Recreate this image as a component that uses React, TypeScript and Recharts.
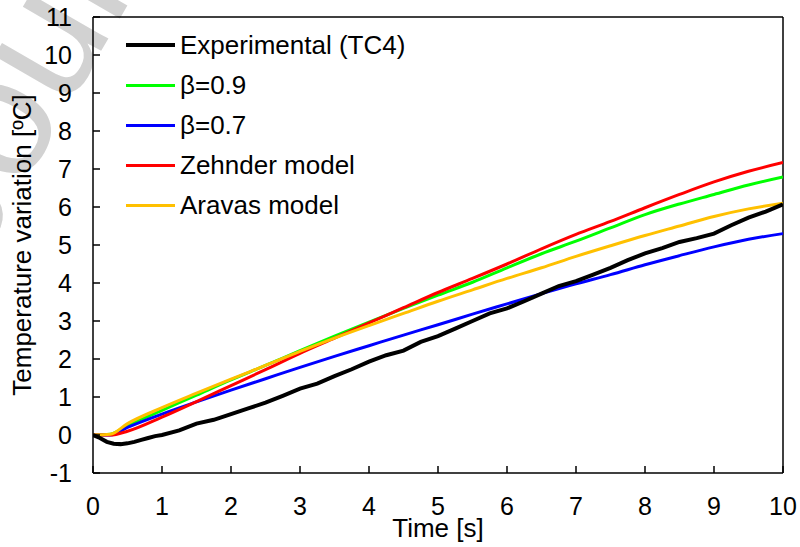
import { Legend, Line, LineChart, ReferenceLine, XAxis, YAxis } from "recharts";

const FONT = '"Liberation Sans", Arial, sans-serif';

// model time grid (s)
const modelTimes = [0, 0.25, 0.5, 1, 1.5, 2, 2.5, 3, 3.5, 4, 4.5, 5, 5.5, 6, 6.5, 7, 7.5, 8, 8.5, 9, 9.5, 10];
const beta09 = [0, 0.02, 0.25, 0.65, 1.05, 1.45, 1.83, 2.22, 2.6, 2.97, 3.33, 3.68, 4.02, 4.4, 4.77, 5.1, 5.45, 5.8, 6.08, 6.33, 6.58, 6.79];
const beta07 = [0, 0, 0.2, 0.55, 0.87, 1.18, 1.48, 1.78, 2.07, 2.35, 2.63, 2.9, 3.18, 3.45, 3.72, 3.98, 4.22, 4.48, 4.72, 4.95, 5.15, 5.3];
const zehnder = [0, 0, 0.1, 0.47, 0.88, 1.3, 1.72, 2.15, 2.55, 2.95, 3.35, 3.75, 4.12, 4.5, 4.9, 5.28, 5.62, 5.98, 6.33, 6.66, 6.94, 7.17];
const aravas = [0, 0.02, 0.3, 0.72, 1.1, 1.47, 1.83, 2.2, 2.55, 2.88, 3.2, 3.52, 3.82, 4.12, 4.4, 4.7, 4.98, 5.25, 5.5, 5.75, 5.95, 6.1];

// experimental TC4 trace
const expTimes = [
  0, 0.1, 0.2, 0.3, 0.4, 0.5, 0.6, 0.7, 0.8, 0.9, 1, 1.25, 1.5, 1.75, 2, 2.25, 2.5, 2.75, 3, 3.25, 3.5,
  3.75, 4, 4.25, 4.5, 4.75, 5, 5.25, 5.5, 5.75, 6, 6.25, 6.5, 6.75, 7, 7.25, 7.5, 7.75, 8, 8.25, 8.5,
  8.75, 9, 9.25, 9.5, 9.75, 10,
];
const expValues = [
  0, -0.08, -0.18, -0.23, -0.24, -0.22, -0.18, -0.13, -0.08, -0.03, 0, 0.12, 0.3, 0.4, 0.55, 0.7, 0.85,
  1.03, 1.22, 1.35, 1.55, 1.73, 1.93, 2.1, 2.22, 2.45, 2.6, 2.8, 3.0, 3.2, 3.33, 3.52, 3.72, 3.92, 4.05,
  4.22, 4.4, 4.6, 4.78, 4.92, 5.08, 5.18, 5.3, 5.52, 5.72, 5.88, 6.07,
];

const xTicks = [0, 1, 2, 3, 4, 5, 6, 7, 8, 9, 10];
const yTicks = [-1, 0, 1, 2, 3, 4, 5, 6, 7, 8, 9, 10, 11];

const toPoints = (ts: number[], vs: number[]) => ts.map((t, i) => ({ t, v: vs[i] }));

const series = [
  { name: "Experimental (TC4)", color: "#000000", width: 4, data: toPoints(expTimes, expValues), curve: "linear" },
  { name: "β=0.9", color: "#00ff00", width: 3, data: toPoints(modelTimes, beta09), curve: "monotone" },
  { name: "β=0.7", color: "#0000ff", width: 3, data: toPoints(modelTimes, beta07), curve: "monotone" },
  { name: "Zehnder model", color: "#ff0000", width: 3, data: toPoints(modelTimes, zehnder), curve: "monotone" },
  { name: "Aravas model", color: "#ffc000", width: 3, data: toPoints(modelTimes, aravas), curve: "monotone" },
];
// black trace is drawn last so it sits on top
const drawOrder = [1, 2, 3, 4, 0];

const TICK_LEN = 7;

function XTick({ x, y, payload }: any) {
  const m = 24;
  return (
    <g>
      <line x1={x} x2={x} y1={y - m} y2={y - m - TICK_LEN} stroke="#000" strokeWidth={1.5} />
      <text x={x} y={y} dy="0.71em" textAnchor="middle" fontSize={25} fontFamily={FONT} fill="#000">
        {payload.value}
      </text>
    </g>
  );
}

function YTick({ x, y, payload }: any) {
  const m = 21;
  return (
    <g>
      <line x1={x + m} x2={x + m + TICK_LEN} y1={y} y2={y} stroke="#000" strokeWidth={1.5} />
      <text x={x} y={y} dy="0.355em" textAnchor="end" fontSize={25} fontFamily={FONT} fill="#000">
        {payload.value}
      </text>
    </g>
  );
}

function LegendBox() {
  return (
    <div style={{ fontFamily: FONT, fontSize: 26, color: "#000" }}>
      {series.map((s) => (
        <div key={s.name} style={{ display: "flex", alignItems: "center", height: 40 }}>
          <span style={{ display: "inline-block", width: 49, height: s.width, background: s.color, marginRight: 5 }} />
          <span style={{ lineHeight: "40px", whiteSpace: "nowrap" }}>{s.name}</span>
        </div>
      ))}
    </div>
  );
}

export default function App() {
  return (
    <div style={{ position: "absolute", left: 0, top: 0, width: 800, height: 547, background: "#fff", overflow: "hidden" }}>
      {/* faint diagonal watermark behind the chart */}
      <svg width={800} height={547} style={{ position: "absolute", left: 0, top: 0 }}>
        <text x={-23} y={266} transform="rotate(-60 -23 266)" fontSize={170} fontFamily={FONT} fill="#d2d2d2">
          Journal Pre-proof
        </text>
      </svg>
      <div style={{ position: "absolute", left: 0, top: 0 }}>
        <LineChart width={800} height={547} margin={{ top: 17, right: 17, bottom: 0, left: 0 }}>
          <XAxis
            dataKey="t"
            type="number"
            domain={[0, 10]}
            ticks={xTicks}
            allowDataOverflow
            height={74}
            tickSize={0}
            tickMargin={24}
            tick={<XTick />}
            axisLine={{ stroke: "#000", strokeWidth: 1.5 }}
            label={{ value: "Time [s]", position: "insideBottom", offset: 10, fontSize: 26, fontFamily: FONT, fill: "#000" }}
          />
          <YAxis
            type="number"
            domain={[-1, 11]}
            ticks={yTicks}
            allowDataOverflow
            width={93}
            tickSize={0}
            tickMargin={21}
            tick={<YTick />}
            axisLine={{ stroke: "#000", strokeWidth: 1.5 }}
            label={{
              value: "Temperature variation [ºC]",
              angle: -90,
              position: "insideLeft",
              offset: 22,
              style: { textAnchor: "middle" },
              fontSize: 26,
              fontFamily: FONT,
              fill: "#000",
            }}
          />
          <ReferenceLine y={11} stroke="#000" strokeWidth={1.5} />
          <ReferenceLine x={10} stroke="#000" strokeWidth={1.5} />
          {drawOrder.map((i) => {
            const s = series[i];
            return (
              <Line
                key={s.name}
                data={s.data}
                dataKey="v"
                name={s.name}
                type={s.curve as any}
                stroke={s.color}
                strokeWidth={s.width}
                dot={false}
                activeDot={false}
                isAnimationActive={false}
              />
            );
          })}
          <Legend
            layout="horizontal"
            align="center"
            verticalAlign="middle"
            content={<LegendBox />}
            wrapperStyle={{ left: 126, top: 25, width: "auto" }}
          />
        </LineChart>
      </div>
    </div>
  );
}
